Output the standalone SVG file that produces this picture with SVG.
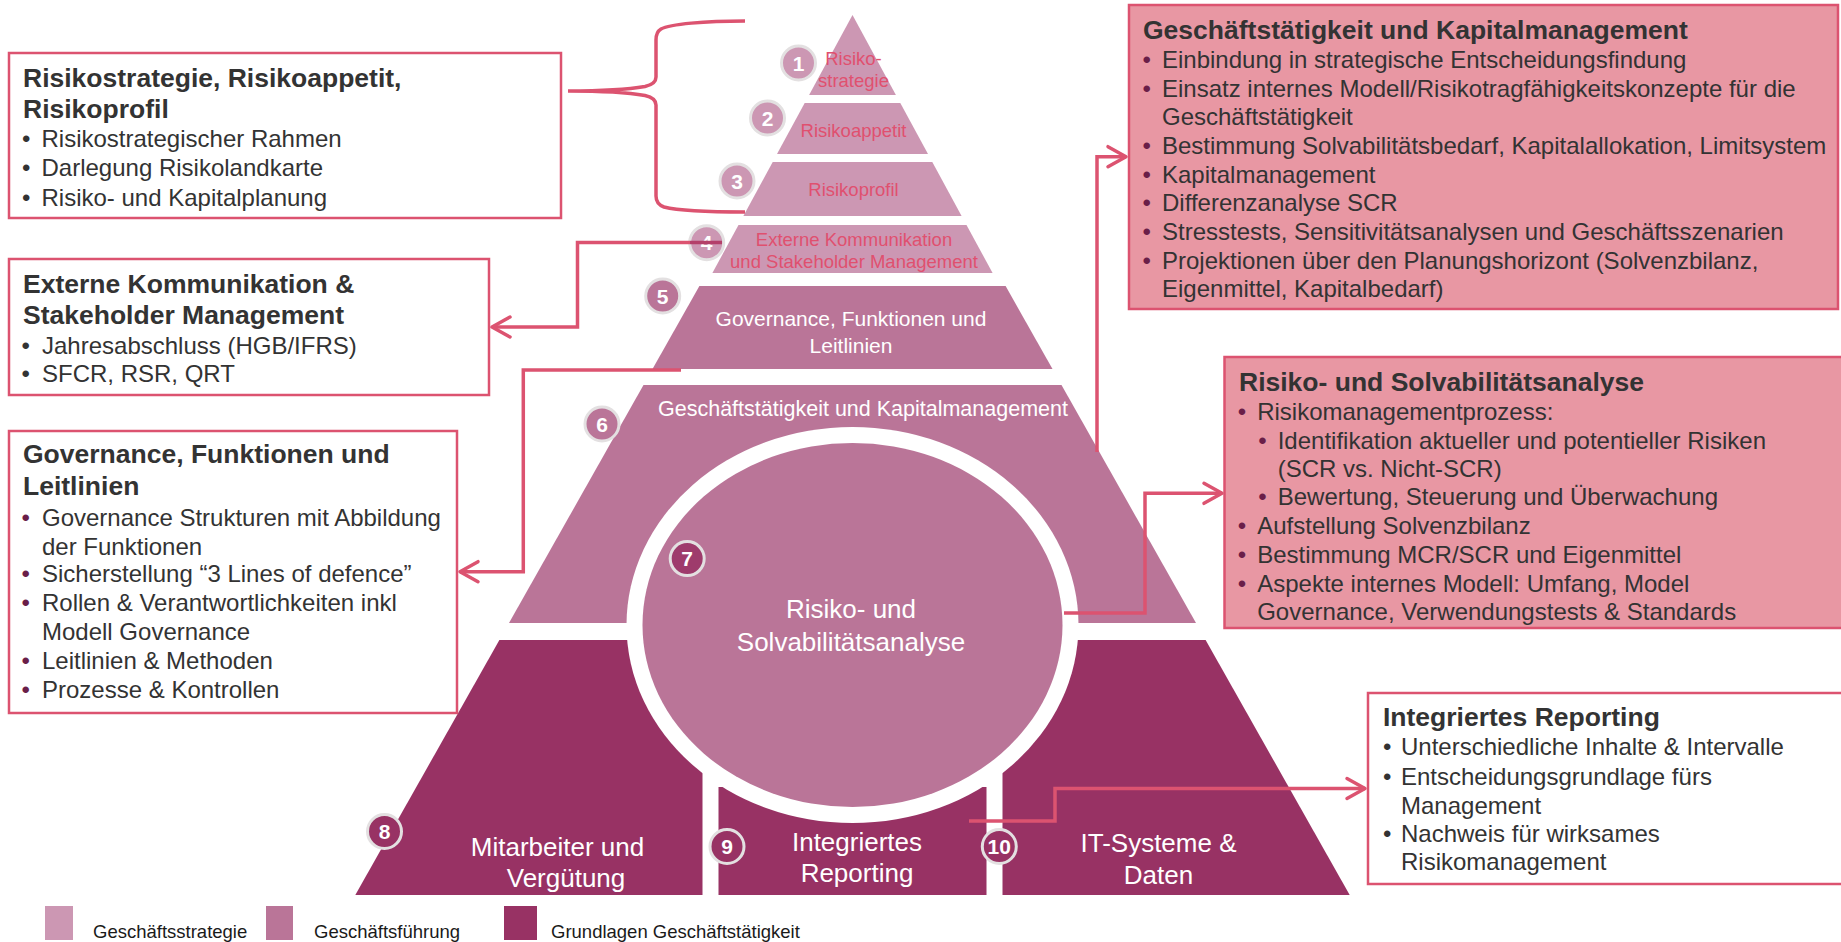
<svg xmlns="http://www.w3.org/2000/svg" width="1841" height="942" viewBox="0 0 1841 942">
<defs>
<style>
text{font-family:"Liberation Sans",Arial,sans-serif}
.box{fill:#fff;stroke:#DC5370;stroke-width:2.5}
.boxf{fill:#E897A3;stroke:#DC5370;stroke-width:2.5}
.ttl{font-size:26.5px;font-weight:bold;fill:#333}
.li{font-size:24px;fill:#333}
.bg{font-size:24px;fill:#333}
.bm{font-size:24px;fill:#6A1E48}
.lt{fill:#CC97B3}
.md{fill:#BA7598}
.dk{fill:#983264}
.t1{font-size:18.5px;fill:#E0506F;text-anchor:middle}
.tw{fill:#fff;text-anchor:middle}
.bd circle{stroke:#E3E0E1;stroke-width:3}
.bd text{font-size:21px;font-weight:bold;fill:#fff;text-anchor:middle}
.con{fill:none;stroke:#DC5370;stroke-width:3.5}
.leg{font-size:18.5px;fill:#1a1a1a}
</style>
<marker id="arr" markerUnits="userSpaceOnUse" markerWidth="26" markerHeight="26" viewBox="-22 -13 26 26" refX="0" refY="0" orient="auto">
<path d="M-18,-10 L0,0 L-18,10" fill="none" stroke="#DC5370" stroke-width="3.5" stroke-linecap="round" stroke-linejoin="round"/>
</marker>
</defs>
<rect width="1841" height="942" fill="#fff"/>

<!-- pyramid tiers -->
<g id="tier1">
<polygon class="lt" points="852.5,15 895.9,95 809.1,95"/>
<text class="t1" x="853.5" y="64.5">Risiko-</text>
<text class="t1" x="853.5" y="87">strategie</text>
<g class="bd"><circle cx="798.5" cy="63" r="17" fill="#CC97B3"/><text x="798.5" y="70.5">1</text></g>
</g>
<g id="tier2">
<polygon class="lt" points="804.7,103 900.3,103 928,154 777,154"/>
<text class="t1" x="853.5" y="136.5">Risikoappetit</text>
<g class="bd"><circle cx="767.5" cy="118" r="17" fill="#CC97B3"/><text x="767.5" y="125.5">2</text></g>
</g>
<g id="tier3">
<polygon class="lt" points="772.7,162 932.3,162 961.6,216 743.4,216"/>
<text class="t1" x="853.5" y="195.5">Risikoprofil</text>
<g class="bd"><circle cx="737" cy="181" r="17" fill="#CC97B3"/><text x="737" y="188.5">3</text></g>
</g>
<g id="tier4">
<polygon class="lt" points="738.5,225 966.5,225 992.6,273 712.4,273"/>
<text class="t1" x="854" y="245.5">Externe Kommunikation</text>
<text class="t1" x="854" y="268">und Stakeholder Management</text>
<g class="bd"><circle cx="706.7" cy="242.7" r="17" fill="#CC97B3"/><text x="706.7" y="250.2">4</text></g>
</g>
<g id="tier5">
<polygon class="md" points="699.4,286 1005.6,286 1052.5,369 652.5,369"/>
<text class="tw" x="851" y="325.5" font-size="21">Governance, Funktionen und</text>
<text class="tw" x="851" y="352.5" font-size="21">Leitlinien</text>
<g class="bd"><circle cx="662.7" cy="296" r="17" fill="#BA7598"/><text x="662.7" y="303.5">5</text></g>
</g>
<g id="tier6">
<polygon class="md" points="643.5,385 1061.5,385 1196,623 509,623"/>
<text class="tw" x="863" y="415.5" font-size="21.5">Geschäftstätigkeit und Kapitalmanagement</text>
<g class="bd"><circle cx="602" cy="424" r="17" fill="#BA7598"/><text x="602" y="431.5">6</text></g>
</g>
<g id="tier8">
<polygon class="dk" points="499.4,640 702.5,640 702.5,895 355.3,895"/>
<text class="tw" x="557.5" y="856" font-size="26">Mitarbeiter und</text>
<text class="tw" x="566" y="887" font-size="26">Vergütung</text>
<g class="bd"><circle cx="384.5" cy="831.5" r="17" fill="#983264"/><text x="384.5" y="839">8</text></g>
</g>
<g id="tier9">
<rect class="dk" x="718.5" y="787" width="268" height="108"/>
<text class="tw" x="857" y="851" font-size="26">Integriertes</text>
<text class="tw" x="857" y="882" font-size="26">Reporting</text>
<g class="bd"><circle cx="727" cy="846.5" r="17" fill="#983264"/><text x="727" y="854">9</text></g>
</g>
<g id="tier10">
<polygon class="dk" points="1002.5,640 1205.6,640 1349.7,895 1002.5,895"/>
<text class="tw" x="1158.5" y="852" font-size="26">IT-Systeme &amp;</text>
<text class="tw" x="1158.5" y="884" font-size="26">Daten</text>
<g class="bd"><circle cx="999.3" cy="846.5" r="17" fill="#983264"/><text x="999.3" y="854">10</text></g>
</g>
<!-- white ring separating the centre disc -->
<ellipse cx="852.5" cy="625" rx="226" ry="198" fill="#fff"/>
<g id="tier7">
<ellipse class="md" cx="852.5" cy="625" rx="210" ry="182"/>
<text class="tw" x="851" y="618" font-size="26">Risiko- und</text>
<text class="tw" x="851" y="651" font-size="26">Solvabilitätsanalyse</text>
<g class="bd"><circle cx="687.2" cy="558.6" r="17" fill="#9E3B6C"/><text x="687.2" y="566.1">7</text></g>
</g>

<!-- description boxes -->
<g id="box-strategie">
<rect class="box" x="9" y="53" width="552" height="165"/>
<text class="ttl" x="23"><tspan x="23" y="86.5">Risikostrategie, Risikoappetit,</tspan><tspan x="23" y="118">Risikoprofil</tspan></text>
<text class="bg" x="22"><tspan x="22" y="146.5">•</tspan><tspan x="22" y="176">•</tspan><tspan x="22" y="205.5">•</tspan></text>
<text class="li" x="41.5"><tspan x="41.5" y="146.5">Risikostrategischer Rahmen</tspan><tspan x="41.5" y="176">Darlegung Risikolandkarte</tspan><tspan x="41.5" y="205.5">Risiko- und Kapitalplanung</tspan></text>
</g>
<g id="box-kommunikation">
<rect class="box" x="9" y="259" width="480" height="136"/>
<text class="ttl" x="23"><tspan x="23" y="292.5">Externe Kommunikation &amp;</tspan><tspan x="23" y="324">Stakeholder Management</tspan></text>
<text class="bg" x="21.5"><tspan x="21.5" y="353.5">•</tspan><tspan x="21.5" y="382">•</tspan></text>
<text class="li" x="42"><tspan x="42" y="353.5">Jahresabschluss (HGB/IFRS)</tspan><tspan x="42" y="382">SFCR, RSR, QRT</tspan></text>
</g>
<g id="box-governance">
<rect class="box" x="9" y="431" width="448" height="282"/>
<text class="ttl" x="23"><tspan x="23" y="463">Governance, Funktionen und</tspan><tspan x="23" y="495">Leitlinien</tspan></text>
<text class="bm" x="21.5"><tspan x="21.5" y="526">•</tspan><tspan x="21.5" y="582">•</tspan><tspan x="21.5" y="611">•</tspan><tspan x="21.5" y="669">•</tspan><tspan x="21.5" y="698">•</tspan></text>
<text class="li" x="42"><tspan x="42" y="526">Governance Strukturen mit Abbildung</tspan><tspan x="42" y="554.5">der Funktionen</tspan><tspan x="42" y="582">Sicherstellung “3 Lines of defence”</tspan><tspan x="42" y="611">Rollen &amp; Verantwortlichkeiten inkl</tspan><tspan x="42" y="640">Modell Governance</tspan><tspan x="42" y="669">Leitlinien &amp; Methoden</tspan><tspan x="42" y="698">Prozesse &amp; Kontrollen</tspan></text>
</g>
<g id="box-kapital">
<rect class="boxf" x="1129" y="5" width="709" height="304"/>
<text class="ttl" x="1143" y="39.3" font-size="25.5">Geschäftstätigkeit und Kapitalmanagement</text>
<text class="bm" x="1142.5"><tspan x="1142.5" y="68">•</tspan><tspan x="1142.5" y="97">•</tspan><tspan x="1142.5" y="154.3">•</tspan><tspan x="1142.5" y="182.6">•</tspan><tspan x="1142.5" y="211">•</tspan><tspan x="1142.5" y="239.6">•</tspan><tspan x="1142.5" y="268.6">•</tspan></text>
<text class="li" x="1162"><tspan x="1162" y="68">Einbindung in strategische Entscheidungsfindung</tspan><tspan x="1162" y="97">Einsatz internes Modell/Risikotragfähigkeitskonzepte für die</tspan><tspan x="1162" y="125.3">Geschäftstätigkeit</tspan><tspan x="1162" y="154.3">Bestimmung Solvabilitätsbedarf, Kapitalallokation, Limitsystem</tspan><tspan x="1162" y="182.6">Kapitalmanagement</tspan><tspan x="1162" y="211">Differenzanalyse SCR</tspan><tspan x="1162" y="239.6">Stresstests, Sensitivitätsanalysen und Geschäftsszenarien</tspan><tspan x="1162" y="268.6">Projektionen über den Planungshorizont (Solvenzbilanz,</tspan><tspan x="1162" y="297">Eigenmittel, Kapitalbedarf)</tspan></text>
</g>
<g id="box-solvabilitaet">
<rect class="boxf" x="1224.5" y="357" width="625" height="271"/>
<text class="ttl" x="1239" y="390.5" font-size="25.5">Risiko- und Solvabilitätsanalyse</text>
<text class="bm"><tspan x="1237.8" y="419.6">•</tspan><tspan x="1258.3" y="448.6">•</tspan><tspan x="1258.3" y="505.3">•</tspan><tspan x="1237.8" y="534.3">•</tspan><tspan x="1237.8" y="563">•</tspan><tspan x="1237.8" y="592">•</tspan></text>
<text class="li"><tspan x="1257.2" y="419.6">Risikomanagementprozess:</tspan><tspan x="1277.7" y="448.6">Identifikation aktueller und potentieller  Risiken</tspan><tspan x="1277.7" y="477">(SCR vs. Nicht-SCR)</tspan><tspan x="1277.7" y="505.3">Bewertung, Steuerung und Überwachung</tspan><tspan x="1257.2" y="534.3">Aufstellung Solvenzbilanz</tspan><tspan x="1257.2" y="563">Bestimmung MCR/SCR und Eigenmittel</tspan><tspan x="1257.2" y="592">Aspekte internes Modell: Umfang, Model</tspan><tspan x="1257.2" y="620.3">Governance, Verwendungstests &amp; Standards</tspan></text>
</g>
<g id="box-reporting">
<rect class="box" x="1368" y="693" width="480" height="191"/>
<text class="ttl" x="1383" y="725.5" font-size="25.5">Integriertes Reporting</text>
<text class="li" fill="#111"><tspan x="1383" y="755.3">•</tspan><tspan x="1383" y="784.6">•</tspan><tspan x="1383" y="842">•</tspan></text>
<text class="li"><tspan x="1401" y="755.3">Unterschiedliche Inhalte &amp; Intervalle</tspan><tspan x="1401" y="784.6">Entscheidungsgrundlage fürs</tspan><tspan x="1401" y="813.6">Management</tspan><tspan x="1401" y="842">Nachweis für wirksames</tspan><tspan x="1401" y="870.3">Risikomanagement</tspan></text>
</g>

<!-- legend -->
<g id="legend">
<rect class="lt" x="45" y="906" width="28" height="34"/>
<text class="leg" x="93" y="938">Geschäftsstrategie</text>
<rect class="md" x="266" y="906" width="27" height="34"/>
<text class="leg" x="314" y="938">Geschäftsführung</text>
<rect class="dk" x="504" y="906" width="33" height="34"/>
<text class="leg" x="551" y="938">Grundlagen Geschäftstätigkeit</text>
</g>

<!-- connectors -->
<g id="connectors">
<path class="con" d="M745,21 C705,21 670,24 661,29 Q656,32 656,40 V77 Q656,84 645,86.5 C625,90 595,91 568,91 C595,91 625,92 645,95.5 Q656,98 656,105 V196 Q656,204 664,207 C680,211 710,212 745,212"/>
<path class="con" d="M690,242.5 H577.5 V327 H492" marker-end="url(#arr)"/>
<path fill="none" stroke="#B4406A" stroke-width="3.5" d="M690,242.5 H722"/>
<path class="con" d="M681,370 H523.3 V571.7 H460" marker-end="url(#arr)"/>
<path class="con" d="M1097,452 V156.7 H1126" marker-end="url(#arr)"/>
<path class="con" d="M1064,613 H1145 V493.3 H1222" marker-end="url(#arr)"/>
<path class="con" d="M969,821 H1055 V788.5 H1365" marker-end="url(#arr)"/>
</g>
</svg>
